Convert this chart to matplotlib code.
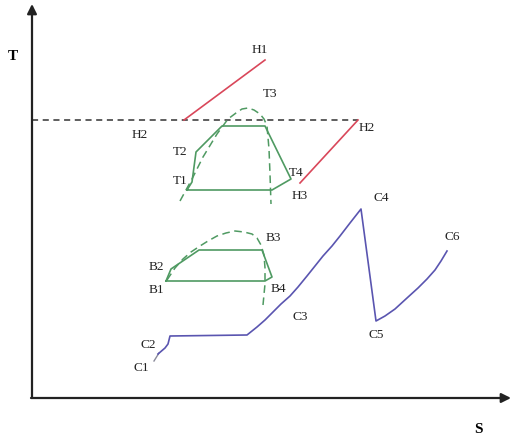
import matplotlib.pyplot as plt

# T-S diagram, values (S to the right, T upward)
h1_s = [184, 265]
h1_t = [318, 378]
h2_s = [300, 358]
h2_t = [255, 318]
ref_s = [32, 358]
ref_t = [318, 318]

tc_s = [187, 192, 196, 222, 265, 291, 272, 187]
tc_t = [248, 256, 286, 312, 312, 259, 248, 248]
tdome_s = [180, 186, 192, 203, 217, 228, 236, 242, 248, 254, 260, 264, 267, 269, 270, 271]
tdome_t = [237, 248, 259, 281, 304, 319, 325, 329, 330, 328, 324, 319, 312, 289, 264, 234]

bc_s = [166, 171, 199, 262, 272, 265, 166]
bc_t = [157, 169, 188, 188, 161, 157, 157]
bdome_s = [167, 175, 183, 191, 200, 208, 217, 226, 235, 244, 252, 257, 261, 264, 265, 265, 263]
bdome_t = [158, 170, 179, 186, 192, 197, 202, 205, 207, 206, 204, 200, 193, 183, 170, 154, 133]

c1_s = [154, 159]
c1_t = [77, 85]
c_s = [158, 165, 168, 170, 247, 252, 257, 265, 273, 281, 290, 298, 307, 315,
       323, 332, 340, 350, 361,
       376, 385, 395, 407, 418, 427, 435, 441, 447]
c_t = [84, 90, 94, 102, 103, 107, 111, 118, 126, 134, 142, 151, 162, 172,
       182, 192, 202, 215, 229,
       117, 122, 129, 140, 150, 159, 168, 177, 187]

labels = ["H1", "H2", "H2", "H3", "T3", "T4", "T2", "T1",
          "B2", "B1", "B3", "B4", "C1", "C2", "C3", "C4", "C5", "C6"]
label_s = [260, 140, 367, 300, 270, 296, 180, 180,
           156, 156, 273, 278, 141, 148, 300, 381, 376, 452]
label_t = [389, 304, 311, 243, 345, 266, 287, 258,
           172, 149, 201, 150, 71, 94, 122, 241, 104, 202]

green = "#4f9a62"
red = "#d9475a"
blue = "#5a55b0"

fig = plt.figure(figsize=(5.12, 4.39), dpi=100)
ax = fig.add_axes([0, 0, 1, 1])
ax.set_xlim(0, 512)
ax.set_ylim(0, 439)
ax.axis("off")

# axes with arrows
ax.annotate("", xy=(32, 434), xytext=(32, 40),
            arrowprops=dict(arrowstyle="-|>", color="#222222", lw=1.6,
                            mutation_scale=14, shrinkA=0, shrinkB=0))
ax.annotate("", xy=(511, 40), xytext=(31, 40),
            arrowprops=dict(arrowstyle="-|>", color="#222222", lw=1.6,
                            mutation_scale=14, shrinkA=0, shrinkB=0))
ax.text(13, 382, "T", fontsize=11, fontweight="bold", family="Liberation Serif",
        ha="center", va="center")
ax.text(478, 9, "S", fontsize=11, fontweight="bold", family="Liberation Serif",
        ha="center", va="center")

ax.plot(ref_s, ref_t, color="#333333", lw=1.1, ls=(0, (4, 3)))
ax.plot(h1_s, h1_t, color=red, lw=1.2)
ax.plot(h2_s, h2_t, color=red, lw=1.2)

ax.plot(tc_s, tc_t, color=green, lw=1.2)
ax.plot(tdome_s, tdome_t, color=green, lw=1.1, ls=(0, (5, 3)))
ax.plot(bc_s, bc_t, color=green, lw=1.2)
ax.plot(bdome_s, bdome_t, color=green, lw=1.1, ls=(0, (5, 3)))

ax.plot(c1_s, c1_t, color="#8a8a9a", lw=1.0)
ax.plot(c_s, c_t, color=blue, lw=1.2)

for txt, s, t in zip(labels, label_s, label_t):
    ax.text(s, t, txt, fontsize=9.5, family="Liberation Serif",
            ha="center", va="center", color="#222222")

fig.savefig("out.png", dpi=100)
